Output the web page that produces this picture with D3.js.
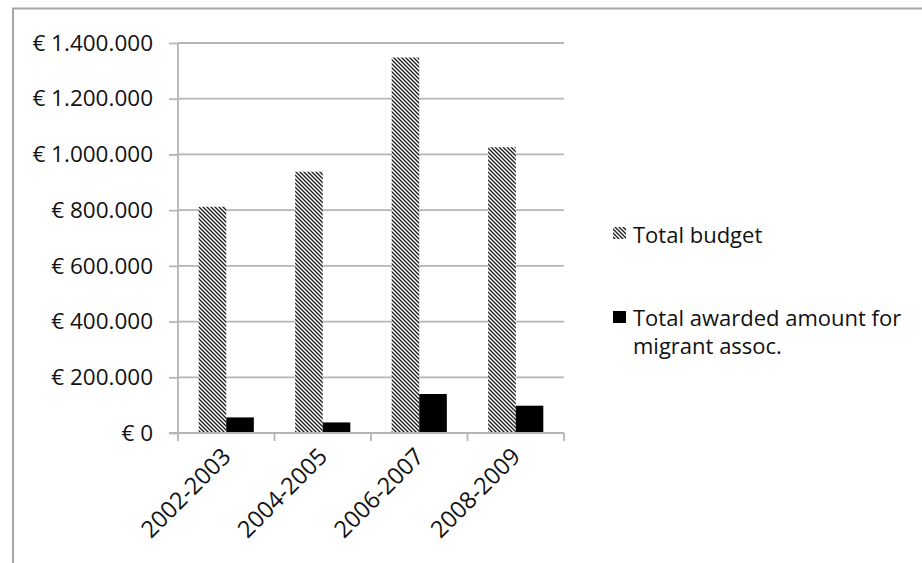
<!DOCTYPE html>
<html><head><meta charset="utf-8">
<script src="https://cdn.jsdelivr.net/npm/d3@7"></script>
<style>
html,body{margin:0;padding:0;background:#fff;}
svg text{font-family:"Open Sans",sans-serif;fill:#111;}
</style></head>
<body>
<svg id="chart" width="922" height="563"></svg>
<script>
const categories = ["2002-2003","2004-2005","2006-2007","2008-2009"];
const totalBudget = [812000, 938000, 1348000, 1026000];
const awardedMigrant = [56000, 38000, 140000, 98000];
const yTicks = [0,200000,400000,600000,800000,1000000,1200000,1400000];
const seriesNames = ["Total budget", ["Total awarded amount for","migrant assoc."]];

(function(){
const svg = d3.select("#chart");
const W = 922, H = 563;
const pLeft = 178, pRight = 564, pTop = 43, pBottom = 433;

const defs = svg.append("defs");
const pat = defs.append("pattern").attr("id","hatch").attr("patternUnits","userSpaceOnUse")
  .attr("width",4).attr("height",4);
pat.append("rect").attr("width",4).attr("height",4).attr("fill","#fff");
pat.append("path").attr("d","M0,0 L4,4 M-1,3 L1,5 M3,-1 L5,1")
  .attr("stroke","#1a1a1a").attr("stroke-width",1.3);

// frame
svg.append("path").attr("d",`M13,${H} L13,8.5 L${W},8.5`).attr("fill","none")
  .attr("stroke","#a6a6a6").attr("stroke-width",2);

const locale = d3.formatLocale({decimal:",",thousands:".",grouping:[3],currency:["€ ",""]});
const fmt = locale.format("$,");

const x = d3.scaleBand().domain(categories).range([pLeft,pRight]).padding(0);
const y = d3.scaleLinear().domain([0,1400000]).range([pBottom,pTop]);

// gridlines
svg.append("g").selectAll("line").data(yTicks.filter(d=>d>0)).join("line")
  .attr("x1",pLeft).attr("x2",pRight).attr("y1",d=>y(d)).attr("y2",d=>y(d))
  .attr("stroke","#b5b5b5").attr("stroke-width",1.8);

// y axis
const yAxis = d3.axisLeft(y).tickValues(yTicks).tickFormat(fmt).tickSize(9).tickPadding(16);
const gy = svg.append("g").attr("transform",`translate(${pLeft},0)`).call(yAxis);
gy.select(".domain").attr("stroke","#b5b5b5").attr("stroke-width",1.8)
  .attr("d",`M0,${pTop}V${pBottom+8}`);
gy.selectAll(".tick line").attr("stroke","#b5b5b5").attr("stroke-width",1.8);
gy.selectAll(".tick text").attr("font-size",22.5).attr("font-family","Open Sans").attr("fill","#111");

// bars
const bw = x.bandwidth()/3.5;
const gb = svg.append("g");
gb.selectAll("rect.b").data(categories).join("rect").attr("class","b")
  .attr("x",d=>x(d)+0.75*bw).attr("width",bw)
  .attr("y",(d,i)=>y(totalBudget[i])).attr("height",(d,i)=>pBottom-y(totalBudget[i]))
  .attr("fill","url(#hatch)");
gb.selectAll("rect.a").data(categories).join("rect").attr("class","a")
  .attr("x",d=>x(d)+1.75*bw).attr("width",bw)
  .attr("y",(d,i)=>y(awardedMigrant[i])).attr("height",(d,i)=>pBottom-y(awardedMigrant[i]))
  .attr("fill","#000");

// x axis
const gx = svg.append("g").attr("transform",`translate(0,${pBottom})`);
gx.append("line").attr("x1",pLeft-9).attr("x2",pRight).attr("y1",0).attr("y2",0)
  .attr("stroke","#b5b5b5").attr("stroke-width",1.8);
const bounds = categories.map(c=>x(c)+x.bandwidth());
gx.selectAll("line.t").data(bounds).join("line").attr("class","t")
  .attr("x1",d=>d).attr("x2",d=>d).attr("y1",0).attr("y2",8)
  .attr("stroke","#b5b5b5").attr("stroke-width",1.8);
gx.selectAll("text").data(categories).join("text")
  .attr("transform",d=>`translate(${x(d)+x.bandwidth()/2+6},${25}) rotate(-45)`)
  .attr("text-anchor","end").attr("font-size",23.5).text(d=>d);

// legend
const lg = svg.append("g");
lg.append("rect").attr("x",613).attr("y",227).attr("width",13).attr("height",12).attr("fill","url(#hatch)");
lg.append("rect").attr("x",613).attr("y",311).attr("width",13).attr("height",12).attr("fill","#000");
lg.append("text").attr("x",633).attr("y",243).attr("font-size",22).text(seriesNames[0]);
lg.selectAll("text.l2").data(seriesNames[1]).join("text").attr("class","l2")
  .attr("x",633).attr("y",(d,i)=>326+i*28).attr("font-size",22).text(d=>d);
})();
</script>
</body></html>
